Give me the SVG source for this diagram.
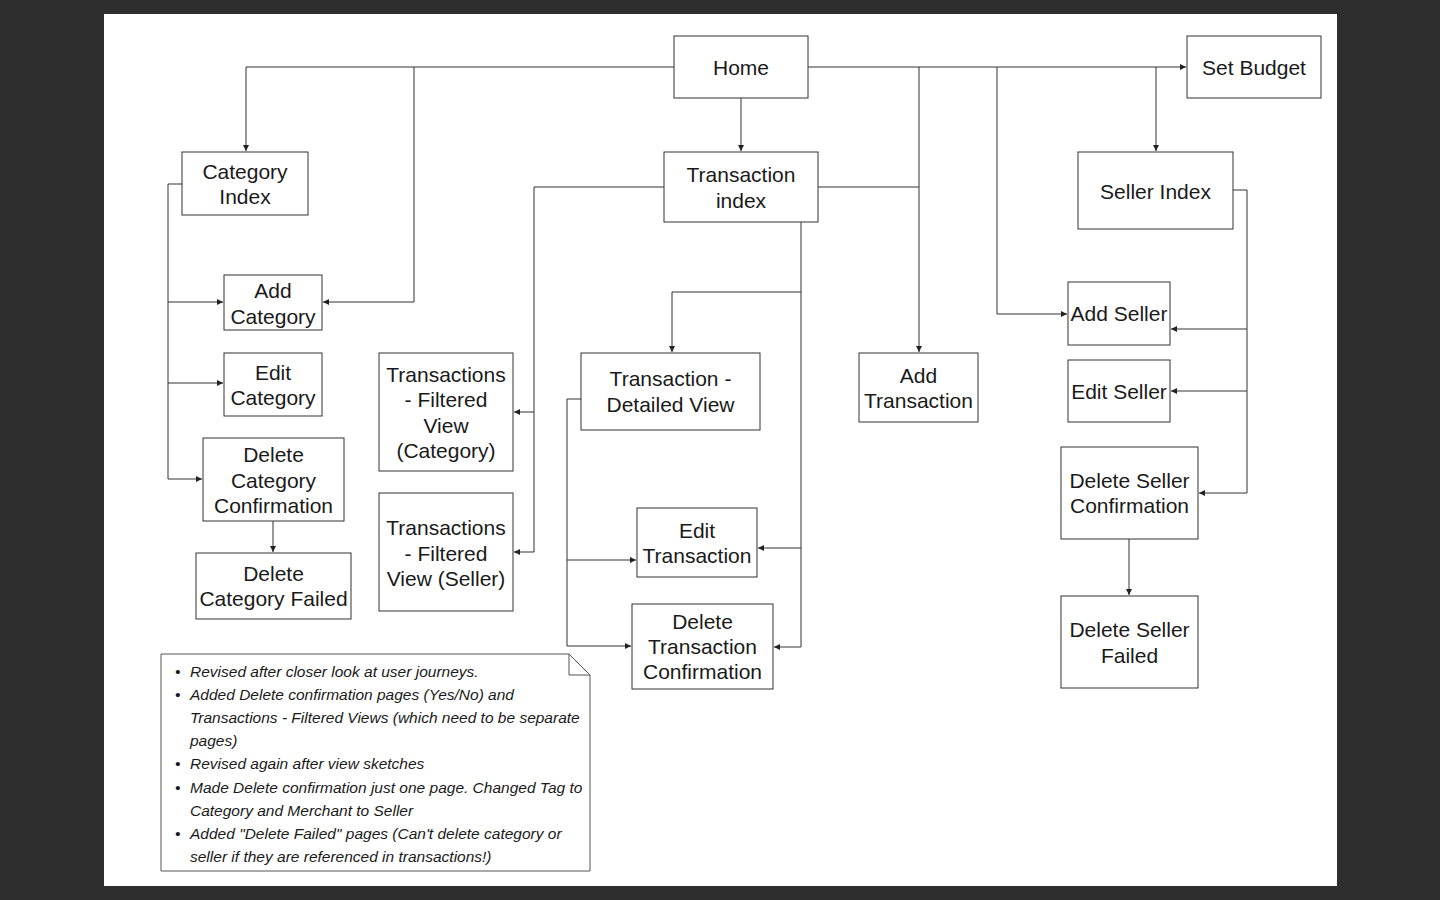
<svg xmlns="http://www.w3.org/2000/svg" width="1440" height="900" viewBox="0 0 1440 900">
<defs>
<style>
.node rect{fill:#fff;stroke:#333;stroke-width:1}
.node text{font-family:"Liberation Sans",Arial,sans-serif;font-size:21px;fill:#1a1a1a;text-anchor:middle}
.conn path{fill:none;stroke:#333;stroke-width:1}
.note text{font-family:"Liberation Sans",Arial,sans-serif;font-size:15.5px;font-style:italic;fill:#1a1a1a}
</style>
<marker id="arr" viewBox="0 0 10 10" refX="10" refY="5" markerWidth="6" markerHeight="6" markerUnits="userSpaceOnUse" orient="auto">
<path d="M0,0 L10,5 L0,10 z" fill="#222"/>
</marker>
</defs>
<rect x="0" y="0" width="1440" height="900" fill="#2e2e2e"/>
<rect x="104" y="14" width="1233" height="872" fill="#fff"/>

<g id="connectors" class="conn">
<path d="M674,67 H246 V151" marker-end="url(#arr)"/>
<path d="M414,67 V302 H323" marker-end="url(#arr)"/>
<path d="M741,98 V151" marker-end="url(#arr)"/>
<path d="M808,67 H1186" marker-end="url(#arr)"/>
<path d="M919,67 V352" marker-end="url(#arr)"/>
<path d="M997,67 V314 H1067" marker-end="url(#arr)"/>
<path d="M1156,67 V151" marker-end="url(#arr)"/>
<path d="M818,187 H919"/>
<path d="M664,187 H534 V412 H514" marker-end="url(#arr)"/>
<path d="M534,412 V552 H514" marker-end="url(#arr)"/>
<path d="M801,222 V292 H672 V352" marker-end="url(#arr)"/>
<path d="M801,292 V548 H758" marker-end="url(#arr)"/>
<path d="M801,548 V647 H774" marker-end="url(#arr)"/>
<path d="M182,184 H168 V479 H202" marker-end="url(#arr)"/>
<path d="M168,302 H223" marker-end="url(#arr)"/>
<path d="M168,383 H223" marker-end="url(#arr)"/>
<path d="M273,521 V552" marker-end="url(#arr)"/>
<path d="M581,399 H567 V646 H631" marker-end="url(#arr)"/>
<path d="M567,560 H636" marker-end="url(#arr)"/>
<path d="M1233,190 H1247 V493 H1199" marker-end="url(#arr)"/>
<path d="M1247,329 H1171" marker-end="url(#arr)"/>
<path d="M1247,391 H1171" marker-end="url(#arr)"/>
<path d="M1129,539 V595" marker-end="url(#arr)"/>
</g>

<g id="home" class="node"><rect x="674" y="36" width="134" height="62"/><text x="741" y="75">Home</text></g>
<g id="set-budget" class="node"><rect x="1187" y="36" width="134" height="62"/><text x="1254" y="75">Set Budget</text></g>
<g id="category-index" class="node"><rect x="182" y="152" width="126" height="63"/><text x="245" y="179">Category</text><text x="245" y="204">Index</text></g>
<g id="transaction-index" class="node"><rect x="664" y="152" width="154" height="70"/><text x="741" y="182">Transaction</text><text x="741" y="208">index</text></g>
<g id="seller-index" class="node"><rect x="1078" y="152" width="155" height="77"/><text x="1155.5" y="199">Seller Index</text></g>
<g id="add-category" class="node"><rect x="224" y="275" width="98" height="55"/><text x="273" y="298">Add</text><text x="273" y="324">Category</text></g>
<g id="edit-category" class="node"><rect x="224" y="353" width="98" height="63"/><text x="273" y="380">Edit</text><text x="273" y="405">Category</text></g>
<g id="delete-category-confirmation" class="node"><rect x="203" y="438" width="141" height="83"/><text x="273.5" y="462">Delete</text><text x="273.5" y="488">Category</text><text x="273.5" y="513">Confirmation</text></g>
<g id="delete-category-failed" class="node"><rect x="196" y="553" width="155" height="66"/><text x="273.5" y="581">Delete</text><text x="273.5" y="606">Category Failed</text></g>
<g id="tfv-category" class="node"><rect x="379" y="353" width="134" height="118"/><text x="446" y="382">Transactions</text><text x="446" y="407">- Filtered</text><text x="446" y="433">View</text><text x="446" y="458">(Category)</text></g>
<g id="tfv-seller" class="node"><rect x="379" y="493" width="134" height="118"/><text x="446" y="535">Transactions</text><text x="446" y="561">- Filtered</text><text x="446" y="586">View (Seller)</text></g>
<g id="transaction-detailed-view" class="node"><rect x="581" y="353" width="179" height="77"/><text x="670.5" y="386">Transaction -</text><text x="670.5" y="412">Detailed View</text></g>
<g id="add-transaction" class="node"><rect x="859" y="353" width="119" height="69"/><text x="918.5" y="383">Add</text><text x="918.5" y="408">Transaction</text></g>
<g id="edit-transaction" class="node"><rect x="637" y="508" width="120" height="69"/><text x="697" y="538">Edit</text><text x="697" y="563">Transaction</text></g>
<g id="delete-transaction-confirmation" class="node"><rect x="632" y="604" width="141" height="85"/><text x="702.5" y="629">Delete</text><text x="702.5" y="654">Transaction</text><text x="702.5" y="679">Confirmation</text></g>
<g id="add-seller" class="node"><rect x="1068" y="282" width="102" height="63"/><text x="1119" y="321">Add Seller</text></g>
<g id="edit-seller" class="node"><rect x="1068" y="360" width="102" height="62"/><text x="1119" y="399">Edit Seller</text></g>
<g id="delete-seller-confirmation" class="node"><rect x="1061" y="447" width="137" height="92"/><text x="1129.5" y="488">Delete Seller</text><text x="1129.5" y="513">Confirmation</text></g>
<g id="delete-seller-failed" class="node"><rect x="1061" y="596" width="137" height="92"/><text x="1129.5" y="637">Delete Seller</text><text x="1129.5" y="663">Failed</text></g>

<g id="note" class="note">
<path d="M161,654 H569 L590,675 V871 H161 Z" fill="#fff" stroke="#555" stroke-width="1"/>
<path d="M569,654 V675 H590" fill="none" stroke="#555" stroke-width="1"/>
<text x="175" y="677">•</text><text x="190" y="677">Revised after closer look at user journeys.</text>
<text x="175" y="700">•</text><text x="190" y="700">Added Delete confirmation pages (Yes/No) and</text>
<text x="190" y="723">Transactions - Filtered Views (which need to be separate</text>
<text x="190" y="746">pages)</text>
<text x="175" y="769">•</text><text x="190" y="769">Revised again after view sketches</text>
<text x="175" y="793">•</text><text x="190" y="793">Made Delete confirmation just one page. Changed Tag to</text>
<text x="190" y="816">Category and Merchant to Seller</text>
<text x="175" y="839">•</text><text x="190" y="839">Added "Delete Failed" pages (Can't delete category or</text>
<text x="190" y="862">seller if they are referenced in transactions!)</text>
</g>
</svg>
